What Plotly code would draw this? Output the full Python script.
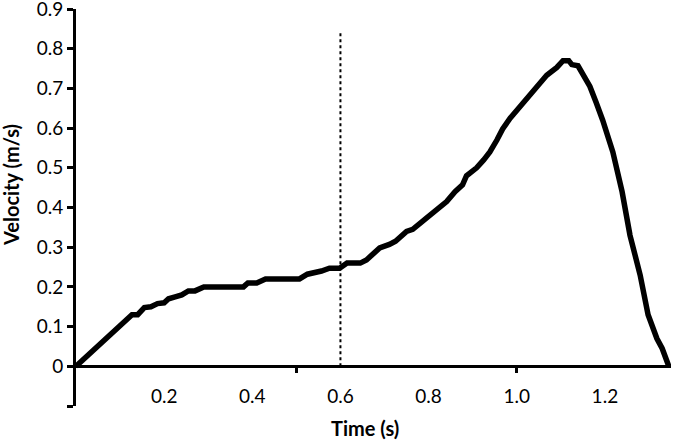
import plotly.graph_objects as go

time_s = [0, 0.05, 0.1, 0.127, 0.14, 0.155, 0.17, 0.185, 0.2, 0.21, 0.225, 0.24, 0.255, 0.27,
          0.29, 0.38, 0.39, 0.41, 0.43, 0.507, 0.525, 0.54, 0.557, 0.575, 0.598, 0.615, 0.645,
          0.659, 0.689, 0.711, 0.725, 0.75, 0.764, 0.795, 0.82, 0.841, 0.86, 0.877, 0.886, 0.909,
          0.925, 0.939, 0.955, 0.968, 0.985, 1.0, 1.015, 1.03, 1.052, 1.068, 1.091, 1.105, 1.118,
          1.125, 1.139, 1.15, 1.166, 1.18, 1.195, 1.218, 1.239, 1.257, 1.28, 1.298, 1.318, 1.33, 1.345]
velocity = [0, 0.05, 0.1, 0.13, 0.13, 0.148, 0.15, 0.158, 0.16, 0.17, 0.175, 0.18, 0.19, 0.19,
            0.2, 0.2, 0.21, 0.21, 0.22, 0.22, 0.232, 0.235, 0.24, 0.247, 0.247, 0.26, 0.26,
            0.268, 0.298, 0.307, 0.315, 0.34, 0.345, 0.373, 0.395, 0.415, 0.44, 0.457, 0.48, 0.5,
            0.52, 0.54, 0.57, 0.598, 0.625, 0.645, 0.662, 0.682, 0.71, 0.733, 0.753, 0.77, 0.77,
            0.76, 0.757, 0.735, 0.705, 0.665, 0.62, 0.54, 0.44, 0.33, 0.23, 0.13, 0.07, 0.045, 0.0]

marker_time = [0.6, 0.6]
marker_vel = [0.0, 0.845]

x_label_vals = [0.2, 0.4, 0.6, 0.8, 1.0, 1.2]
x_label_text = ["0.2", "0.4", "0.6", "0.8", "1.0", "1.2"]
x_tick_vals = [0.5, 1.0]
y_tick_vals = [-0.1, 0, 0.1, 0.2, 0.3, 0.4, 0.5, 0.6, 0.7, 0.8, 0.9]
y_tick_text = ["", "0", "0.1", "0.2", "0.3", "0.4", "0.5", "0.6", "0.7", "0.8", "0.9"]

FONT = "Lato, Open Sans, sans-serif"
XR = [0, 1.35]
YR = [-0.1, 0.9001]

L, R, T, B = 76, 3, 9, 34
W, H = 674, 440
pw = W - L - R
ph = H - T - B

fig = go.Figure()
fig.add_trace(go.Scatter(x=marker_time, y=marker_vel, mode="lines", xaxis="x2", yaxis="y",
                         line=dict(color="black", width=2, dash="dot"), showlegend=False,
                         hoverinfo="skip"))
fig.add_trace(go.Scatter(x=time_s, y=velocity, mode="lines",
                         line=dict(color="black", width=5.5), showlegend=False))

fig.update_layout(
    width=W, height=H,
    margin=dict(l=L, r=R, t=T, b=B, autoexpand=False),
    paper_bgcolor="white", plot_bgcolor="white",
    font=dict(family=FONT, size=19, color="black"),
    xaxis=dict(range=XR, anchor="free", position=0.1, showgrid=False, zeroline=False,
               showline=True, linecolor="black", linewidth=3, automargin=False,
               tickmode="array", tickvals=x_label_vals, ticktext=x_label_text,
               ticks="", ticklabelstandoff=12, tickfont=dict(size=19),
               ticklabeloverflow="allow"),
    xaxis2=dict(range=XR, overlaying="x", anchor="free", position=0.1, showgrid=False,
                zeroline=False, showline=False, tickmode="array", tickvals=x_tick_vals,
                ticks="outside", ticklen=6, tickwidth=3, tickcolor="black",
                showticklabels=False, side="bottom", automargin=False),
    yaxis=dict(range=YR, showgrid=False, zeroline=False, showline=True, linecolor="black",
               linewidth=3, tickmode="array", tickvals=y_tick_vals, ticktext=y_tick_text,
               ticks="outside", ticklen=6, tickwidth=3, tickcolor="black",
               tickfont=dict(size=19), automargin=False, ticklabeloverflow="allow"),
    annotations=[
        dict(text="<b>Time (s)</b>", x=(365 - L) / pw, y=(ph + T - 428) / ph,
             xref="paper", yref="paper", xanchor="center", yanchor="middle",
             showarrow=False, font=dict(size=20)),
        dict(text="<b>Velocity (m/s)</b>", textangle=-90, x=(11 - L) / pw,
             y=(ph + T - 185) / ph, xref="paper", yref="paper",
             xanchor="center", yanchor="middle", showarrow=False, font=dict(size=20)),
    ],
)

fig.write_html("out.html", config={"displayModeBar": False},
               post_script="document.body.style.margin='0';document.body.style.padding='0';")
